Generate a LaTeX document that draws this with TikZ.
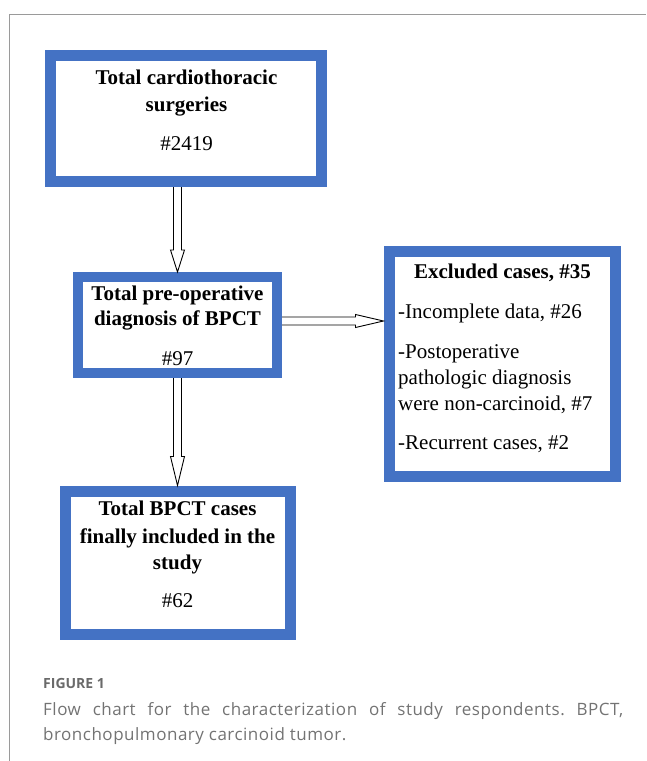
\documentclass[tikz,border=0pt]{standalone}
\usepackage{fontspec}
\setmainfont{Liberation Serif}
\newfontfamily\capfont[LetterSpace=3]{Open Sans}
\newfontfamily\figfont{Open Sans}
\usetikzlibrary{calc}
\frenchspacing
\definecolor{boxblue}{HTML}{4472C4}
\definecolor{capgray}{HTML}{737373}
\definecolor{figgray}{HTML}{6A6A6A}
\definecolor{framegray}{HTML}{9A9A9A}
\newcommand\vblockarrow[3]{%
  \draw[arrowline] let \p1=(#1), \p2=(#2) in
    (\x1-4pt,\y1) -- (\x1-4pt,\y2+#3) -- (\x1-7pt,\y2+#3) -- (\x1,\y2)
    -- (\x1+7pt,\y2+#3) -- (\x1+4pt,\y2+#3) -- (\x1+4pt,\y1);}
\newcommand\hblockarrow[3]{%
  \draw[arrowline] let \p1=(#1), \p2=(#2) in
    (\x1,\y1+4pt) -- (\x2-#3,\y1+4pt) -- (\x2-#3,\y1+6.5pt) -- (\x2,\y1)
    -- (\x2-#3,\y1-6.5pt) -- (\x2-#3,\y1-4pt) -- (\x1,\y1-4pt);}
\begin{document}
\begin{tikzpicture}[x=1pt,y=-1pt,
  bluebox/.style={draw=boxblue, fill=white, line width=11pt, inner sep=0pt},
  boxtitle/.style={font=\fontsize{21}{25}\selectfont\bfseries, anchor=base, inner sep=0pt},
  boxtext/.style={font=\fontsize{21}{25}\selectfont, anchor=base, inner sep=0pt},
  listtext/.style={font=\fontsize{21}{25}\selectfont, anchor=base west, inner sep=0pt},
  arrowline/.style={draw=black, line width=0.9pt, fill=white, line join=miter},
  figlabel/.style={font=\figfont\bfseries\fontsize{14}{16}\selectfont, text=figgray, anchor=base west, inner sep=0pt},
  captext/.style={font=\capfont\fontsize{17}{20}\selectfont, text=capgray, anchor=base west, inner sep=0pt}
]
\useasboundingbox (0,0) rectangle (646,761);
% frame
\draw[framegray, line width=1pt] (9,761) -- (9,14) -- (646,14);
% boxes
\node[bluebox, minimum width=271pt, minimum height=126pt] (b1) at (186,118.5) {};
\node[bluebox, line width=10pt, minimum width=199pt, minimum height=96pt] (b2) at (177.5,325) {};
\node[bluebox, minimum width=226pt, minimum height=225pt] (b3) at (502,363.5) {};
\node[bluebox, minimum width=225pt, minimum height=143pt] (b4) at (177.5,562.5) {};
% box 1 text
\node[boxtitle] (t1a) at (186.5,84) {Total cardiothoracic};
\node[boxtitle] (t1b) at (186.5,111) {surgeries};
\node[boxtext] (t1c) at (186.5,150) {\#2419};
% box 2 text
\node[boxtitle] (t2a) at (177.5,300) {Total pre-operative};
\node[boxtitle] (t2b) at (177.5,325) {diagnosis of BPCT};
\node[boxtext] (t2c) at (177.5,365) {\#97};
% box 3 text
\node[boxtitle] (t3a) at (502.5,278) {Excluded cases, \#35};
\node[listtext] (t3b) at (398,318) {-Incomplete data, \#26};
\node[listtext] (t3c) at (398,358) {-Postoperative};
\node[listtext] (t3d) at (398,384) {pathologic diagnosis};
\node[listtext] (t3e) at (398,410) {were non-carcinoid, \#7};
\node[listtext] (t3f) at (398,449) {-Recurrent cases, \#2};
% box 4 text
\node[boxtitle] (t4a) at (177.5,515) {Total BPCT cases};
\node[boxtitle] (t4b) at (177.5,543) {finally included in the};
\node[boxtitle] (t4c) at (177.5,569) {study};
\node[boxtext] (t4d) at (177.5,607) {\#62};
% arrows
\vblockarrow{b2.north |- b1.south}{b2.north}{22pt}
\coordinate (a2s) at ($(b2.east)+(0,-4)$);
\coordinate (a2e) at (a2s -| b3.west);
\hblockarrow{a2s}{a2e}{28pt}
\vblockarrow{b2.south}{b4.north}{29pt}
% caption
\node[figlabel] (fig) at (43,688) {FIGURE 1};
\node[captext] (cap1) at (43,715) {\makebox[580pt][s]{Flow chart for the characterization of study respondents. BPCT,}};
\node[captext] (cap2) at (43,740) {bronchopulmonary carcinoid tumor.};
\end{tikzpicture}
\end{document}
